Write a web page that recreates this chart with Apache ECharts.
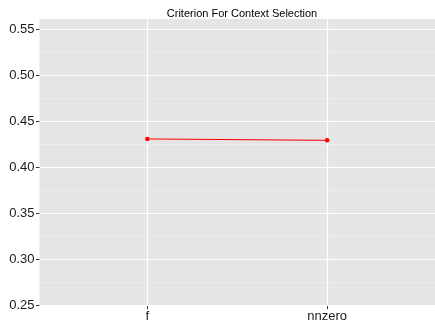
<!DOCTYPE html>
<html>
<head>
<meta charset="utf-8">
<script src="https://cdn.jsdelivr.net/npm/echarts@6/dist/echarts.min.js"></script>
<style>
  html, body { margin: 0; padding: 0; background: #fff; }
  #chart { width: 435px; height: 329px; }
</style>
</head>
<body>
<div id="chart"></div>
<script>
// Criterion values per context-selection method
const categories = ['f', 'nnzero'];
const criterionValues = [0.4305, 0.429];
const yTicks = [0.25, 0.30, 0.35, 0.40, 0.45, 0.50, 0.55];
const yMinorTicks = [0.275, 0.325, 0.375, 0.425, 0.475, 0.525];
// Panel limits on the y scale (slightly padded beyond the labelled range)
const yLimits = [0.2492, 0.5609];

const positions = categories.map((_, i) => i + 1);
const lineData = positions.map((p, i) => [p, criterionValues[i]]);

const chart = echarts.init(document.getElementById('chart'), null, { renderer: 'canvas' });

const font = 'Liberation Sans, Arial, sans-serif';

chart.setOption({
  animation: false,
  title: {
    text: 'Criterion For Context Selection',
    left: 237,
    textAlign: 'center',
    top: 3,
    textStyle: { fontFamily: font, fontSize: 11, fontWeight: 'normal', color: '#000' }
  },
  grid: {
    left: 39.5, right: 0, top: 19, bottom: 329 - 305.7,
    show: true, backgroundColor: '#E5E5E5', borderWidth: 0
  },
  xAxis: {
    type: 'value',
    min: 0.4,
    max: 2.6,
    axisLine: { show: false },
    axisTick: { show: true, customValues: positions, length: 3.5, lineStyle: { color: '#333', width: 1 } },
    axisLabel: {
      customValues: positions,
      formatter: v => categories[Math.round(v) - 1] || '',
      fontFamily: font, fontSize: 13, color: '#1a1a1a', margin: 4
    },
    splitLine: { show: true, customValues: positions, lineStyle: { color: '#fff', width: 1.2 } }
  },
  yAxis: [{
    type: 'value',
    min: yLimits[0],
    max: yLimits[1],
    axisLine: { show: false },
    axisTick: { show: true, customValues: yTicks, length: 3.5, lineStyle: { color: '#333', width: 1 } },
    axisLabel: {
      customValues: yTicks,
      formatter: v => v.toFixed(2),
      fontFamily: font, fontSize: 13, color: '#1a1a1a', margin: 5
    },
    splitLine: { show: true, customValues: yTicks, lineStyle: { color: '#fff', width: 1.2 } },
    z: 2
  }, {
    // minor grid lines only
    type: 'value',
    position: 'left',
    min: yLimits[0],
    max: yLimits[1],
    axisLine: { show: false },
    axisTick: { show: false, customValues: yMinorTicks },
    axisLabel: { show: false, customValues: yMinorTicks },
    splitLine: { show: true, customValues: yMinorTicks, lineStyle: { color: '#F2F2F2', width: 0.6 } },
    z: 1
  }],
  series: [{
    type: 'line',
    data: lineData,
    symbol: 'circle',
    symbolSize: 4.5,
    lineStyle: { color: '#FF0000', width: 1 },
    itemStyle: { color: '#FF0000' },
    z: 5
  }]
});
</script>
</body>
</html>
